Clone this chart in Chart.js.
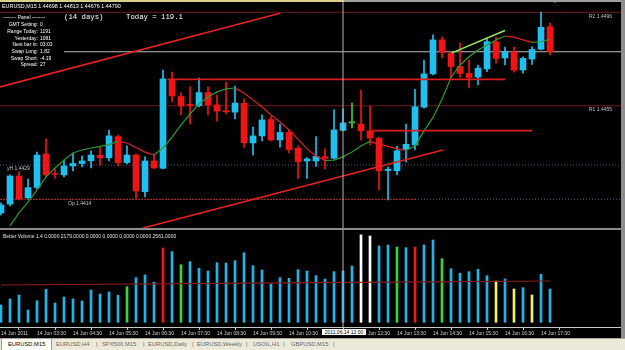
<!DOCTYPE html>
<html>
<head>
<meta charset="utf-8">
<script src="https://cdn.jsdelivr.net/npm/chart.js@4.4.1/dist/chart.umd.min.js"></script>
<style>
  body { margin: 0; background: #000; width: 625px; height: 350px; overflow: hidden; position: relative;
         font-family: "Liberation Sans", Arial, sans-serif; }
  canvas { position: absolute; left: 0; }
  .t { position: absolute; color: #fff; font-size: 5px; height: 6px; line-height: 6px; white-space: nowrap; }
  .mono { font-family: "Liberation Mono", monospace; font-size: 7.3px; height: 8px; line-height: 8px; }
  .r { text-align: right; width: 38px; left: 0; }
  .lvl { color: #c0c0c0; }
  #topA { position: absolute; left: 0; top: 0; width: 344px; height: 1.5px; background: #d8d08c; }
  #topB { position: absolute; left: 344px; top: 0; width: 281px; height: 1.5px; background: #a0a0a0; }
  #sep { position: absolute; left: 0; top: 228px; width: 625px; height: 2px; background: #8c8c8c; }
  #rborder { position: absolute; left: 621px; top: 0; width: 4px; height: 338px; background: #8c8c8c; }
  #timebox { position: absolute; left: 322px; top: 329px; width: 44px; height: 6px; line-height: 6px; background: #fff;
             color: #000; font-size: 5px; text-align: center; }
  #tabs { position: absolute; left: 0; top: 338px; width: 625px; height: 12px; background: #ece9d8;
          border-top: 1px solid #aca899; box-sizing: border-box; }
  .tab { position: absolute; top: 0; height: 11px; line-height: 11px; font-size: 5.8px; color: #666; white-space: nowrap; }
  .tab.on { background: #fff; color: #000; border-left: 1px solid #999; border-right: 1px solid #999; padding: 0 6px; }
  #mark { position: absolute; left: 552px; top: 0; width: 0; height: 0; border-left: 3px solid transparent;
          border-right: 3px solid transparent; border-top: 3px solid #a0a0a0; }
</style>
</head>
<body>
<canvas id="price" width="621" height="228" style="top:0"></canvas>
<div id="topA"></div><div id="topB"></div>
<div id="sep"></div>
<canvas id="vol" width="621" height="108" style="top:230px"></canvas>
<div id="rborder"></div>
<div id="mark"></div>

<div class="t" style="left:2px;top:3px;font-size:5.4px">EURUSD,M15 1.44698 1.44813 1.44676 1.44790</div>
<div class="t" style="left:3px;top:14px">-------- Panel --------</div>
<div class="t mono" style="left:64px;top:12.7px">(14 days)</div>
<div class="t mono" style="left:126px;top:12.7px">Today = 119.1</div>
<div class="t r" style="top:21.3px">GMT Setting:</div><div class="t" style="left:40px;top:21.3px">0</div>
<div class="t r" style="top:28px">Range Today:</div><div class="t" style="left:40px;top:28px">1191</div>
<div class="t r" style="top:34.7px">Yesterday:</div><div class="t" style="left:40px;top:34.7px">1081</div>
<div class="t r" style="top:41.3px">Next bar in:</div><div class="t" style="left:40px;top:41.3px">03:03</div>
<div class="t r" style="top:48px">Swap Long:</div><div class="t" style="left:40px;top:48px">1.82</div>
<div class="t r" style="top:54.7px">Swap Short:</div><div class="t" style="left:40px;top:54.7px">-4.19</div>
<div class="t r" style="top:61.3px">Spread:</div><div class="t" style="left:40px;top:61.3px">27</div>

<div class="t lvl" style="left:589px;top:12.7px">R2 1.4496</div>
<div class="t lvl" style="left:589px;top:106.3px">R1 1.4455</div>
<div class="t lvl" style="left:7px;top:165.3px">yH 1.4429</div>
<div class="t lvl" style="left:68px;top:199.7px">Op 1.4414</div>

<div class="t" style="left:3px;top:232.7px;color:#e0e0e0">Better Volume 1.4 0.0000 2179.0000 0.0000 0.0000 0.0000 0.0000 2561.0000</div>
<div id="timebox">2011.06.14 12:00</div>

<div id="tabs">
  <div class="tab on" style="left:1px">EURUSD,M15</div>
  <div class="tab" style="left:56px">EURUSD,H4</div>
  <div class="tab" style="left:96px">|</div>
  <div class="tab" style="left:102px">SPX500,M15</div>
  <div class="tab" style="left:143px">|</div>
  <div class="tab" style="left:148px">EURUSD,Daily</div>
  <div class="tab" style="left:192px">|</div>
  <div class="tab" style="left:197px">EURUSD,Weekly</div>
  <div class="tab" style="left:246px">|</div>
  <div class="tab" style="left:253px">USOIL,H1</div>
  <div class="tab" style="left:283px">|</div>
  <div class="tab" style="left:291px">GBPUSD,M15</div>
  <div class="tab" style="left:333px">|</div>
</div>

<script>
// EURUSD M15, 14 Jun 2011, bars 02:30 .. 17:45
const open  = [1.44080,1.44119,1.44242,1.44147,1.44192,1.44339,1.44253,1.44247,1.44286,1.44297,
               1.44309,1.44333,1.44322,1.44415,1.44301,1.44334,1.44173,1.44308,1.44276,1.44663,
               1.44591,1.44556,1.44551,1.44608,1.44554,1.44527,1.44522,1.44561,1.44387,1.44418,
               1.44490,1.44400,1.44433,1.44364,1.44308,1.44308,1.44327,1.44320,1.44442,1.44475,
               1.44470,1.44440,1.44408,1.44266,1.44265,1.44359,1.44378,1.44544,1.44690,1.44839,
               1.44780,1.44722,1.44692,1.44676,1.44712,1.44831,1.44760,1.44787,1.44707,1.44755,
               1.44798,1.44897];
const high  = [1.44124,1.44247,1.44260,1.44229,1.44347,1.44404,1.44273,1.44312,1.44343,1.44330,
               1.44352,1.44369,1.44444,1.44422,1.44374,1.44339,1.44326,1.44339,1.44707,1.44698,
               1.44608,1.44633,1.44672,1.44633,1.44597,1.44654,1.44637,1.44580,1.44457,1.44510,
               1.44503,1.44470,1.44446,1.44374,1.44323,1.44415,1.44361,1.44532,1.44536,1.44562,
               1.44619,1.44549,1.44413,1.44282,1.44372,1.44470,1.44622,1.44751,1.44861,1.44852,
               1.44786,1.44826,1.44751,1.44729,1.44846,1.44850,1.44808,1.44808,1.44765,1.44809,
               1.44961,1.44912];
const low   = [1.44071,1.44111,1.44137,1.44141,1.44185,1.44238,1.44233,1.44238,1.44264,1.44282,
               1.44277,1.44290,1.44308,1.44286,1.44295,1.44144,1.44150,1.44275,1.44273,1.44567,
               1.44510,1.44470,1.44545,1.44510,1.44483,1.44514,1.44492,1.44367,1.44334,1.44396,
               1.44396,1.44369,1.44343,1.44231,1.44231,1.44284,1.44273,1.44317,1.44440,1.44453,
               1.44400,1.44378,1.44181,1.44137,1.44247,1.44304,1.44356,1.44540,1.44685,1.44760,
               1.44672,1.44676,1.44628,1.44641,1.44700,1.44737,1.44729,1.44698,1.44693,1.44731,
               1.44795,1.44773];
const close = [1.44115,1.44242,1.44141,1.44191,1.44334,1.44247,1.44249,1.44286,1.44297,1.44308,
               1.44334,1.44322,1.44418,1.44301,1.44334,1.44176,1.44308,1.44277,1.44668,1.44593,
               1.44549,1.44551,1.44608,1.44554,1.44527,1.44524,1.44562,1.44388,1.44418,1.44488,
               1.44400,1.44433,1.44358,1.44305,1.44317,1.44328,1.44319,1.44444,1.44475,1.44475,
               1.44440,1.44408,1.44265,1.44272,1.44353,1.44381,1.44546,1.44690,1.44839,1.44784,
               1.44722,1.44692,1.44674,1.44715,1.44831,1.44758,1.44787,1.44707,1.44758,1.44797,
               1.44894,1.44787];
// smoothed moving average (green rising / red falling)
const ma    = [null,1.44023,1.44080,1.44128,1.44181,1.44238,1.44277,1.44312,1.44343,1.44356,
               1.44365,1.44372,1.44380,1.44394,1.44387,1.44367,1.44347,1.44334,1.44365,1.44413,
               1.44466,1.44514,1.44558,1.44589,1.44611,1.44624,1.44628,1.44606,1.44576,1.44545,
               1.44510,1.44479,1.44444,1.44404,1.44361,1.44330,1.44310,1.44312,1.44326,1.44347,
               1.44374,1.44394,1.44382,1.44372,1.44361,1.44354,1.44374,1.44440,1.44499,1.44579,
               1.44674,1.44729,1.44765,1.44795,1.44816,1.44839,1.44856,1.44851,1.44839,1.44828,
               1.44831,1.44842];
const volume = [507,683,800,360,633,967,565,741,683,624,
                946,829,888,791,1043,1307,1386,1172,2179,2069,
                1688,1776,1582,1503,1746,1737,1805,2039,1658,1532,
                1122,1307,1289,1541,1503,1365,1269,1483,1503,1650,
                2561,2529,2236,2265,2206,2186,2206,2265,2411,1863,
                1570,1436,1483,1553,1365,1210,1269,976,1014,800,
                1406,976];
// Better Volume bar type: n neutral, ch churn, cu climax up, cd climax down, lo low volume
const volType = ['n','n','n','n','n','n','n','n','n','n',
                 'n','n','n','n','ch','n','n','n','cu','n',
                 'ch','n','n','n','n','n','n','n','n','n',
                 'n','n','n','n','n','n','n','n','n','n',
                 'cd','cd','n','n','ch','n','cu','n','n','ch',
                 'n','n','n','n','n','lo','n','lo','n','lo',
                 'n','n'];
const volAvg = [[0, 1093], [35, 1160], [61, 1210]];

// pivot levels and drawn objects (bar index, price)
const pivotR2 = 1.4496, pivotR1 = 1.4455, yHigh = 1.4429, dayOpen = 1.4414;
const trendUpper = [[-0.11, 1.44633], [31, 1.44956]];
const trendLower = [[15.78, 1.44014], [49.1, 1.44356]];
const trendGreen = [[50.1, 1.44782], [56, 1.44880]];
const levelA = [[18.5, 1.44666], [56, 1.44666]];
const levelB = [[41.2, 1.44441], [59, 1.44441]];
const crossBar = 38;

const tickBars = [0,4,8,12,16,20,24,28,32,36,40,44,48,52,56,60];
const timeLabels = ['14 Jun 2011','14 Jun 03:30','14 Jun 04:30','14 Jun 05:30','14 Jun 06:30','14 Jun 07:30',
                    '14 Jun 08:30','14 Jun 09:30','14 Jun 10:30','14 Jun 11:30','14 Jun 12:30','14 Jun 13:30',
                    '14 Jun 14:30','14 Jun 15:30','14 Jun 16:30','14 Jun 17:30'];

const xMin = -1 / 9, xMax = xMin + 621 / 9;
const priceMin = 1.44014, priceMax = 1.45014;

Chart.defaults.font.family = '"Liberation Sans", Arial, sans-serif';
Chart.defaults.animation = false;

const UP = '#1ec0f0', DOWN = '#f01414', DOJI = '#3cc83c';
const candleColor = i => close[i] > open[i] ? UP : close[i] < open[i] ? DOWN : DOJI;
const pts = arr => arr.map(p => ({ x: p[0], y: p[1] }));
const hline = (y, x0, x1) => [{ x: x0, y: y }, { x: x1, y: y }];

const line = (data, color, width, dash) => ({
  type: 'line', data: data, borderColor: color, borderWidth: width, borderDash: dash || [],
  pointRadius: 0, fill: false, tension: 0
});

new Chart(document.getElementById('price'), {
  type: 'bar',
  data: {
    datasets: [
      line([{ x: crossBar, y: priceMin }, { x: crossBar, y: priceMax }], '#b4b4b4', 1),
      line(pts(trendGreen), '#9ae65a', 1.5),
      line(pts(trendUpper), '#e82020', 1.6),
      line(pts(trendLower), '#e82020', 1.6),
      line(pts(levelA), '#d81e1e', 1.6),
      line(pts(levelB), '#d81e1e', 1.6),
      Object.assign(line(ma.map((v, i) => ({ x: i, y: v })), '#2a9a2a', 1.2), {
        segment: { borderColor: c => c.p1.parsed.y >= c.p0.parsed.y ? '#2a9a2a' : '#e02020' }
      }),
      {
        type: 'bar', grouped: false, barThickness: 6, minBarLength: 1, borderWidth: 0,
        data: open.map((o, i) => ({ x: i, y: [o, close[i]] })),
        backgroundColor: c => candleColor(c.dataIndex)
      },
      {
        type: 'bar', grouped: false, barThickness: 1, borderWidth: 0,
        data: low.map((l, i) => ({ x: i, y: [l, high[i]] })),
        backgroundColor: c => candleColor(c.dataIndex)
      },
      line(hline(close[close.length - 1], 7, xMax), '#bdbdbd', 1),
      line(hline(pivotR2, xMin, xMax), '#761818', 1),
      line(hline(pivotR1, xMin, xMax), '#761818', 1),
      line(hline(yHigh, xMin, xMax), '#4a5a8c', 1, [1, 2]),
      line(hline(dayOpen, xMin, 46), '#c83030', 1, [2, 1]),
      line(hline(dayOpen, 46, xMax), '#4a5a8c', 1, [1, 2])
    ]
  },
  options: {
    responsive: false, devicePixelRatio: 1,
    layout: { padding: 0 },
    plugins: { legend: { display: false }, tooltip: { enabled: false } },
    scales: {
      x: { type: 'linear', min: xMin, max: xMax, offset: false, bounds: 'data', display: false },
      y: { type: 'linear', min: priceMin, max: priceMax, bounds: 'data', display: false }
    }
  }
});

const VOLC = { n: '#22b4e6', ch: '#3cd23c', cu: '#f01818', cd: '#ffffff', lo: '#f0f064' };

new Chart(document.getElementById('vol'), {
  type: 'bar',
  data: {
    datasets: [
      line([{ x: crossBar, y: -200 }, { x: crossBar, y: 3000 }], '#b4b4b4', 1),
      line(pts(volAvg), '#8c1c1c', 1.2),
      {
        type: 'bar', grouped: false, barThickness: 2, borderWidth: 0,
        data: volume.map((v, i) => ({ x: i, y: v })),
        backgroundColor: c => VOLC[volType[c.dataIndex]]
      }
    ]
  },
  options: {
    responsive: false, devicePixelRatio: 1,
    layout: { padding: 0 },
    plugins: { legend: { display: false }, tooltip: { enabled: false } },
    scales: {
      x: {
        type: 'linear', min: xMin, max: xMax, offset: false, bounds: 'data',
        afterBuildTicks: a => { a.ticks = tickBars.map(v => ({ value: v })); },
        afterFit: a => { a.height = 11; },
        border: { color: '#c8c8c8', width: 1 },
        grid: { drawOnChartArea: false, color: '#c8c8c8', tickLength: 3 },
        ticks: {
          autoSkip: false, maxRotation: 0, minRotation: 0, align: 'start', padding: 1,
          color: '#d0d0d0', font: { size: 5, family: '"Liberation Sans Narrow", "Liberation Sans", Arial' },
          callback: (v, i) => timeLabels[i]
        }
      },
      y: { type: 'linear', min: -138, max: 2704, bounds: 'data', display: false }
    }
  }
});
</script>
</body>
</html>
